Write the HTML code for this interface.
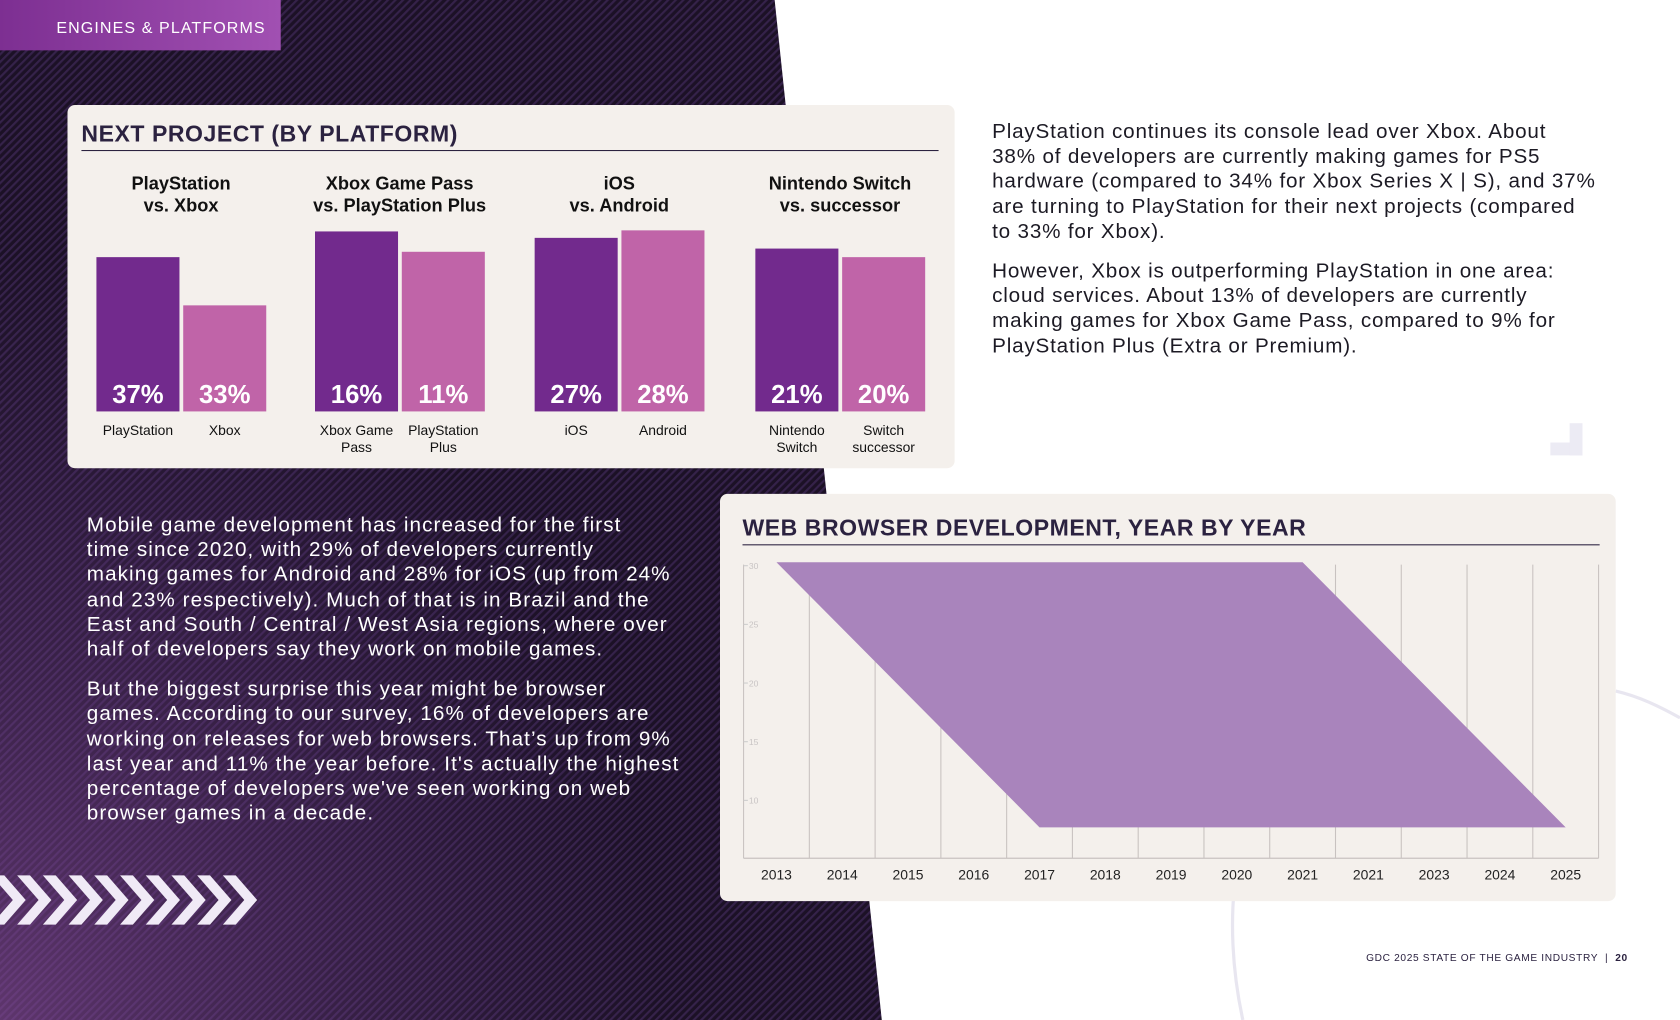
<!DOCTYPE html>
<html><head><meta charset="utf-8">
<style>
html,body{margin:0;padding:0;width:1680px;height:1020px;overflow:hidden;background:#fff;}
#page{position:absolute;left:0;top:0;width:1568px;height:952px;transform:scale(1.07143);transform-origin:0 0;font-family:"Liberation Sans",sans-serif;}
.abs{position:absolute;}
.para{position:absolute;font-size:19.3px;line-height:23.2px;white-space:nowrap;letter-spacing:0.75px;}
.card{position:absolute;background:#f4f0ec;border-radius:7px;}
.ctitle{position:absolute;font-weight:bold;color:#2b2240;font-size:21.5px;letter-spacing:0.5px;white-space:nowrap;}
.rule{position:absolute;height:1.5px;background:#2b2240;}
</style></head><body>
<div id="page">
<svg class="abs" style="left:0;top:0" width="1568" height="952">
  <defs>
    <pattern id="stripes" width="5" height="5" patternUnits="userSpaceOnUse" patternTransform="rotate(-45)">
      <rect width="5" height="5" fill="#1c1126"/>
      <rect width="5" height="2" fill="#35224a"/>
    </pattern>
    <radialGradient id="glow" cx="0" cy="1" r="0.75">
      <stop offset="0" stop-color="#8a4e9c" stop-opacity="0.6"/>
      <stop offset="1" stop-color="#6a3c8a" stop-opacity="0"/>
    </radialGradient>
  </defs>
  <polygon points="0,0 723,0 823,952 0,952" fill="url(#stripes)"/>
  <polygon points="0,0 723,0 823,952 0,952" fill="url(#glow)"/>
  <path d="M1160,952 C1140,860 1150,760 1200,700" stroke="#e8e6f0" stroke-width="3" fill="none"/>
  <path d="M1508,645 C1530,650 1550,660 1568,670" stroke="#e8e6f0" stroke-width="3" fill="none"/>
  <rect x="1447" y="413" width="30" height="12" fill="#ecebf4"/>
  <rect x="1465" y="395" width="12" height="30" fill="#ecebf4"/>
  <g fill="#f0eaf6">
    <polygon points="0,817 12,817 32,840 12,863 0,863 20,840" transform="translate(-8,0)"/>
    <polygon points="0,817 12,817 32,840 12,863 0,863 20,840" transform="translate(16,0)"/>
    <polygon points="0,817 12,817 32,840 12,863 0,863 20,840" transform="translate(40,0)"/>
    <polygon points="0,817 12,817 32,840 12,863 0,863 20,840" transform="translate(64,0)"/>
    <polygon points="0,817 12,817 32,840 12,863 0,863 20,840" transform="translate(88,0)"/>
    <polygon points="0,817 12,817 32,840 12,863 0,863 20,840" transform="translate(112,0)"/>
    <polygon points="0,817 12,817 32,840 12,863 0,863 20,840" transform="translate(136,0)"/>
    <polygon points="0,817 12,817 32,840 12,863 0,863 20,840" transform="translate(160,0)"/>
    <polygon points="0,817 12,817 32,840 12,863 0,863 20,840" transform="translate(184,0)"/>
    <polygon points="0,817 12,817 32,840 12,863 0,863 20,840" transform="translate(208,0)"/>
  </g>
</svg>

<div class="abs" style="left:0;top:0;width:262px;height:47px;background:linear-gradient(90deg,#7d2f92,#a150b2);color:#fff;font-size:15px;letter-spacing:1px;text-align:right;box-sizing:border-box;padding-right:14px;line-height:54px;">ENGINES &amp; PLATFORMS</div>

<div class="card" style="left:63px;top:98px;width:828px;height:339px;"></div>
<div class="ctitle" style="left:76px;top:113px;">NEXT PROJECT (BY PLATFORM)</div>
<div class="rule" style="left:76px;top:139.5px;width:800px;"></div>
<svg id="barsvg" class="abs" style="left:0;top:0" width="900" height="440"></svg>

<div class="para" style="left:926px;top:112px;color:#1c1a24;">PlayStation continues its console lead over Xbox. About<br>38% of developers are currently making games for PS5<br>hardware (compared to 34% for Xbox Series X | S), and 37%<br>are turning to PlayStation for their next projects (compared<br>to 33% for Xbox).<div style="height:14px"></div>However, Xbox is outperforming PlayStation in one area:<br>cloud services. About 13% of developers are currently<br>making games for Xbox Game Pass, compared to 9% for<br>PlayStation Plus (Extra or Premium).</div>

<div class="para" style="left:81px;top:479px;color:#fff;letter-spacing:1px;">Mobile game development has increased for the first<br>time since 2020, with 29% of developers currently<br>making games for Android and 28% for iOS (up from 24%<br>and 23% respectively). Much of that is in Brazil and the<br>East and South / Central / West Asia regions, where over<br>half of developers say they work on mobile games.<div style="height:14px"></div>But the biggest surprise this year might be browser<br>games. According to our survey, 16% of developers are<br>working on releases for web browsers. That’s up from 9%<br>last year and 11% the year before. It's actually the highest<br>percentage of developers we've seen working on web<br>browser games in a decade.</div>

<div class="card" style="left:672px;top:461px;width:836px;height:380px;"></div>
<div class="ctitle" style="left:693px;top:481px;">WEB BROWSER DEVELOPMENT, YEAR BY YEAR</div>
<div class="rule" style="left:693px;top:507.5px;width:800px;"></div>
<svg id="areasvg" class="abs" style="left:0;top:0" width="1568" height="840"></svg>

<div class="abs" style="left:1275px;top:889px;font-size:9.5px;letter-spacing:0.6px;color:#2b2240;white-space:nowrap;">GDC 2025 STATE OF THE GAME INDUSTRY &nbsp;| &nbsp;<b>20</b></div>
</div>

<script>
// ---- bar chart data ----
const groupTitles = [["PlayStation","vs. Xbox"],["Xbox Game Pass","vs. PlayStation Plus"],["iOS","vs. Android"],["Nintendo Switch","vs. successor"]];
const barLabels = [["PlayStation"],["Xbox"],["Xbox Game","Pass"],["PlayStation","Plus"],["iOS"],["Android"],["Nintendo","Switch"],["Switch","successor"]];
const barPercents = ["37%","33%","16%","11%","27%","28%","21%","20%"];
const barLevels = [144,99,168,149,162,169,152,144];
// ---- area chart data ----
const years = ["2013","2014","2015","2016","2017","2018","2019","2020","2021","2021","2023","2024","2025"];
const yTicks = [10,15,20,25,30];
const upperIdx = [0,8,12];
const upperVal = [30.3,30.3,7.7];
const lowerIdx = [0,4,12];
const lowerVal = [30.3,7.7,7.7];

const NS="http://www.w3.org/2000/svg";
function mk(parent,tag,attrs){const e=document.createElementNS(NS,tag);for(const k in attrs)e.setAttribute(k,attrs[k]);parent.appendChild(e);return e;}

// bars
(function(){
  const svg=document.getElementById('barsvg');
  const base=384, barW=77.5;
  const groupX=[90,294,499,705], gap=81;
  const bh=v=>v;
  groupTitles.forEach((t,g)=>{
    const cx=groupX[g]+79;
    t.forEach((line,i)=>{
      const tx=mk(svg,'text',{x:cx,y:177+i*20.5,'text-anchor':'middle','font-size':17,'font-weight':'bold',fill:'#111','font-family':'Liberation Sans, sans-serif'});
      tx.textContent=line;
      
      
    });
  });
  barLevels.forEach((v,i)=>{
    const g=Math.floor(i/2), x=groupX[g]+(i%2)*gap;
    const h=bh(v);
    const r=mk(svg,'rect',{x:x,y:base-h,width:barW,height:h,fill:i%2?'#c064a8':'#722a8d'});
    
    
    const p=mk(svg,'text',{x:x+barW/2,y:base-8,'text-anchor':'middle','font-size':24,'font-weight':'bold',fill:'#fff','font-family':'Liberation Sans, sans-serif'});
    p.textContent=barPercents[i];
    
    
    barLabels[i].forEach((l,j)=>{
      const t=mk(svg,'text',{x:x+barW/2,y:406+j*16,'text-anchor':'middle','font-size':13,fill:'#111','font-family':'Liberation Sans Narrow, Liberation Sans, sans-serif'});
      t.textContent=l;
      
      
    });
  });
})();

// area
(function(){
  const svg=document.getElementById('areasvg');
  const L=694,R=1492,T=524,B=801;
  const band=(R-L)/years.length;
  const xs=i=>L+band*(i+0.5);
  const ys=v=>747-(v-10)*10.95;
  for(let i=0;i<=years.length;i++){
    const ln=mk(svg,'line',{x1:L+band*i,x2:L+band*i,y1:T+3,y2:B,stroke:'#c8c2c0','stroke-width':1});
    
    
  }
  const ax=mk(svg,'line',{x1:L,x2:R,y1:B,y2:B,stroke:'#c8c2c0','stroke-width':1.2});
  
  
  yTicks.forEach(v=>{
    const tk=mk(svg,'line',{x1:L,x2:L+4,y1:ys(v),y2:ys(v),stroke:'#ccc','stroke-width':1});
    
    
    const t=mk(svg,'text',{x:L+5,y:ys(v)+3,'font-size':8,fill:'#c8c4c4','font-family':'Liberation Sans, sans-serif'});
    t.textContent=v;
    
    
  });
  let pts=upperIdx.map((i,k)=>xs(i)+','+ys(upperVal[k]));
  for(let k=lowerIdx.length-1;k>=0;k--)pts.push(xs(lowerIdx[k])+','+ys(lowerVal[k]));
  const poly=mk(svg,'polygon',{points:pts.join(' '),fill:'#a984bc'});
  
  
  years.forEach((y,i)=>{
    const t=mk(svg,'text',{x:xs(i),y:821,'text-anchor':'middle','font-size':13,fill:'#222','font-family':'Liberation Sans, sans-serif'});
    t.textContent=y;
    
    
  });
})();
</script>
</body></html>
